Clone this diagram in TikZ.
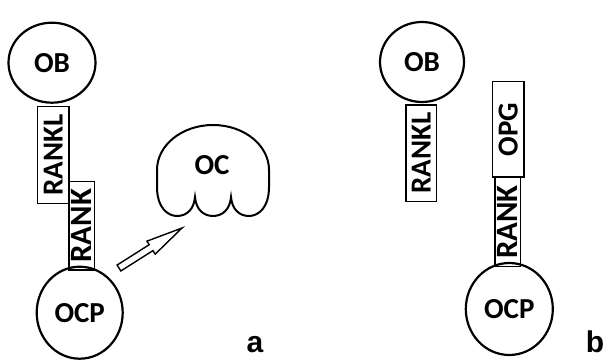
\documentclass[tikz,border=0pt]{standalone}
\usepackage{fontspec}
\setmainfont{Carlito}
\newfontfamily\labelfont{Liberation Sans}
\usetikzlibrary{shapes.geometric}

\begin{document}
\begin{tikzpicture}[x=1pt,y=1pt,
	cell/.style={draw,ellipse,line width=2.2pt,minimum width=87pt,minimum height=80pt,font=\fontsize{29}{29}\selectfont\bfseries},
	rezeptor/.style={draw,rectangle,line width=1.6pt,rotate=90,inner sep=0pt,font=\fontsize{29}{29}\selectfont\bfseries},
	teil/.style={font=\labelfont\fontsize{30}{30}\selectfont\bfseries,anchor=base,inner sep=0pt,text depth=0pt}]
	\useasboundingbox (0,0) rectangle (604,359);
	%Zellen a
	\node [cell] (oba) at (52,296.3) {OB};
	\node [cell,minimum width=86pt,minimum height=92pt] (ocpa) at (79.7,46.3) {OCP};
	%Rezeptoren a
	\node [rezeptor,minimum width=96.6pt,minimum height=31.7pt] (rankla) at (53.2,204) {RANKL};
	\node [rezeptor,minimum width=88.3pt,minimum height=25.3pt,font=\fontsize{31}{31}\selectfont\bfseries] (ranka) at (81.7,133.2) {RANK};
	%Osteoklast
	\draw [line width=2pt] (157,189) -- (157,172)
		.. controls (157,151) and (168,143) .. (177,143)
		.. controls (187,143) and (194,150) .. (195,162)
		.. controls (196,149) and (204,143) .. (213,143)
		.. controls (222,143) and (230,149) .. (231,162)
		.. controls (232,150) and (239,143) .. (249,143)
		.. controls (258,143) and (269,151) .. (269,172)
		-- (269,189) arc [start angle=0,end angle=180,x radius=56,y radius=45] -- cycle;
	\node [font=\fontsize{29}{29}\selectfont\bfseries] (oc) at (212,194) {OC};
	%Pfeil
	\coordinate (pfeil) at (119,91);
	\draw [line width=1.4pt,line join=miter,shift={(pfeil)},rotate=32.4]
		(0,-3.5) -- (38,-3.5) -- (38,-7.7) -- (74.6,0) -- (38,7.7) -- (38,3.5) -- (0,3.5) -- cycle;
	%Zellen b
	\node [cell,minimum width=84pt] (obb) at (422,297) {OB};
	\node [cell,minimum width=87pt,minimum height=92pt] (ocpb) at (509.3,50) {OCP};
	%Rezeptoren b
	\node [rezeptor,minimum width=96.7pt,minimum height=30.7pt] (ranklb) at (421.3,205.7) {RANKL};
	\node [rezeptor,minimum width=95.6pt,minimum height=31.3pt] (opg) at (508.3,229.5) {OPG};
	\node [rezeptor,minimum width=89.3pt,minimum height=25.7pt,font=\fontsize{31}{31}\selectfont\bfseries] (rankb) at (507.8,137) {RANK};
	%Beschriftung
	\node [teil] (labela) at (255,7) {a};
	\node [teil] (labelb) at (595,7) {b};
\end{tikzpicture}
\end{document}
